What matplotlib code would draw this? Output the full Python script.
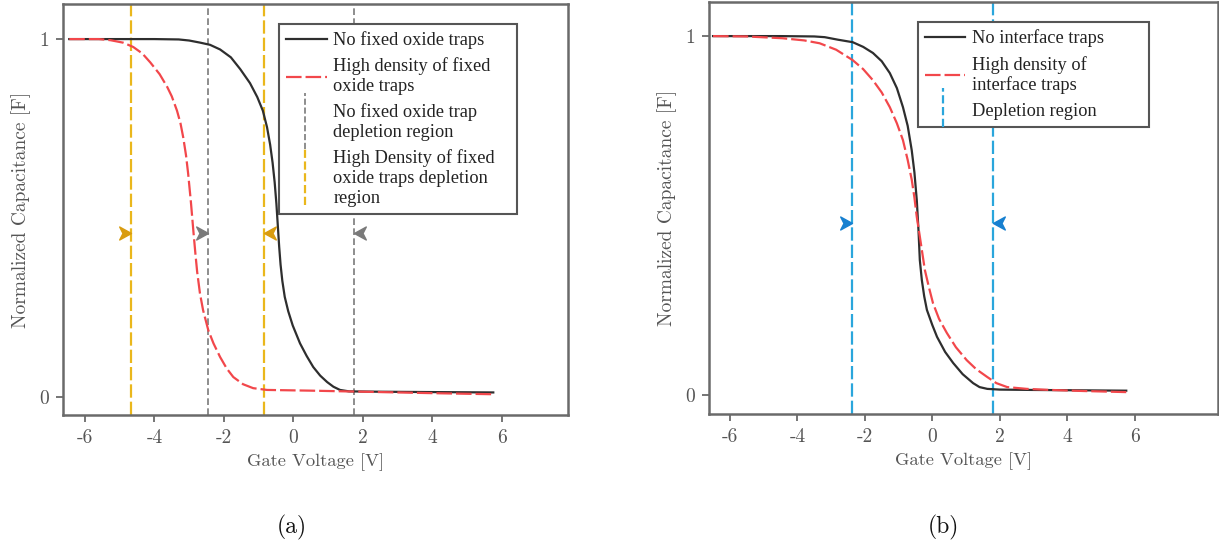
import matplotlib
matplotlib.use("Agg")
import matplotlib.pyplot as plt
from matplotlib.lines import Line2D
from matplotlib.path import Path
from matplotlib.legend_handler import HandlerBase

# ---------------- data ----------------
# Panel (a): fixed oxide traps
a_black_x = [-6.45, -4.0, -3.3, -3.0, -2.68, -2.4, -2.11, -1.8, -1.53, -1.25, -1.04, -0.88,
             -0.76, -0.67, -0.60, -0.54, -0.49, -0.45, -0.41, -0.37, -0.32, -0.25, -0.15,
             -0.02, 0.19, 0.38, 0.57, 0.77, 0.97, 1.15, 1.34, 1.6, 2.5, 4.0, 5.75]
a_black_y = [1.0, 1.0, 0.999, 0.996, 0.99, 0.984, 0.971, 0.949, 0.916, 0.877, 0.838, 0.80,
             0.754, 0.705, 0.655, 0.60, 0.54, 0.48, 0.42, 0.37, 0.325, 0.28, 0.24,
             0.20, 0.15, 0.115, 0.084, 0.06, 0.042, 0.029, 0.02, 0.016, 0.015, 0.014, 0.013]
a_red_x = [-6.45, -5.6, -5.27, -4.9, -4.61, -4.35, -4.12, -3.85, -3.63, -3.5, -3.35, -3.25,
           -3.17, -3.09, -3.03, -2.95, -2.88, -2.82, -2.77, -2.69, -2.60, -2.45, -2.3, -2.11,
           -1.92, -1.73, -1.45, -1.16, -0.76, 0.5, 2.0, 4.0, 5.75]
a_red_y = [1.0, 1.0, 0.997, 0.99, 0.978, 0.96, 0.935, 0.902, 0.866, 0.84, 0.80, 0.765,
           0.725, 0.675, 0.625, 0.545, 0.465, 0.40, 0.35, 0.29, 0.243, 0.187, 0.15, 0.112,
           0.08, 0.056, 0.036, 0.025, 0.02, 0.018, 0.015, 0.011, 0.008]
a_gray_vlines = [-2.46, 1.74]
a_yellow_vlines = [-4.67, -0.84]
a_arrow_y = 0.458

# Panel (b): interface traps
b_black_x = [-6.5, -4.5, -3.5, -3.19, -2.8, -2.36, -2.05, -1.76, -1.5, -1.26, -1.05, -0.87,
             -0.73, -0.61, -0.53, -0.46, -0.41, -0.37, -0.31, -0.24, -0.16, 0.0, 0.14, 0.38,
             0.62, 0.9, 1.21, 1.4, 1.63, 2.0, 3.0, 5.75]
b_black_y = [1.0, 1.0, 0.999, 0.997, 0.99, 0.983, 0.97, 0.953, 0.93, 0.897, 0.855, 0.802,
             0.75, 0.682, 0.62, 0.543, 0.46, 0.376, 0.32, 0.275, 0.237, 0.195, 0.162, 0.12,
             0.089, 0.058, 0.033, 0.022, 0.017, 0.015, 0.014, 0.012]
b_red_x = [-6.5, -5.5, -4.44, -3.8, -3.34, -2.85, -2.36, -2.05, -1.76, -1.5, -1.26, -1.05,
           -0.87, -0.73, -0.61, -0.53, -0.46, -0.38, -0.31, -0.22, -0.1, 0.02, 0.2, 0.43,
           0.7, 1.02, 1.3, 1.63, 1.9, 2.22, 2.8, 3.5, 4.5, 5.75]
b_red_y = [1.0, 0.999, 0.994, 0.988, 0.98, 0.962, 0.933, 0.908, 0.877, 0.843, 0.802, 0.757,
           0.71, 0.655, 0.60, 0.55, 0.496, 0.448, 0.404, 0.348, 0.30, 0.256, 0.212, 0.173,
           0.133, 0.097, 0.072, 0.05, 0.033, 0.022, 0.017, 0.014, 0.011, 0.008]
b_blue_vlines = [-2.37, 1.79]
b_arrow_y = 0.48

xticks = [-6, -4, -2, 0, 2, 4, 6]
xticklabels = ["-6", "-4", "-2", "0", "2", "4", "6"]
yticks = [0, 1]
yticklabels = ["0", "1"]

legend_a = ["No fixed oxide traps", "High density of fixed\noxide traps",
            "No fixed oxide trap\ndepletion region",
            "High Density of fixed\noxide traps depletion\nregion"]
legend_b = ["No interface traps", "High density of\ninterface traps", "Depletion region"]

# ---------------- style ----------------
plt.rcParams["axes.unicode_minus"] = False
AX_FONT = "cmr10"
LEG_FONT = "Liberation Serif"
TXT = "#555555"
SPINE = "#6a6a6a"
BLACK = "#2e2e2e"
RED = "#f2474b"
GRAY = "#7a7a7a"
YEL = "#eab71c"
YEL_ARROW = "#d99c10"
BLUE = "#2aa6dc"
BLUE_ARROW = "#1780d0"

red_dash = (0, (7, 1.8))
gray_dash = (0, (4, 2))
yel_dash = (0, (6, 1.8))
blue_dash = (0, (6, 1.8))

# stealth-like arrowhead pointing right, tip at origin
arrow_right = Path([(0, 0), (-1.0, 0.55), (-0.72, 0), (-1.0, -0.55), (0, 0)],
                   [Path.MOVETO, Path.LINETO, Path.LINETO, Path.LINETO, Path.CLOSEPOLY])
arrow_left = Path([(0, 0), (1.0, 0.55), (0.72, 0), (1.0, -0.55), (0, 0)],
                  [Path.MOVETO, Path.LINETO, Path.LINETO, Path.LINETO, Path.CLOSEPOLY])


class VLineHandler(HandlerBase):
    """Legend handle drawn as a short vertical dashed segment."""
    def __init__(self, span=28, **kw):
        super().__init__(**kw)
        self.span = span

    def create_artists(self, legend, orig_handle, xdescent, ydescent, width, height,
                       fontsize, trans):
        xc = width * 0.45 - xdescent
        yc = height / 2 - ydescent + 1.0
        ln = Line2D([xc, xc], [yc - self.span / 2, yc + self.span / 2],
                    color=orig_handle.get_color(), lw=orig_handle.get_linewidth(),
                    linestyle=orig_handle.get_linestyle())
        ln.set_transform(trans)
        return [ln]


fig = plt.figure(figsize=(12.19, 5.51), dpi=100)
axA = fig.add_axes([63 / 1219, 136 / 551, 505 / 1219, 411 / 551])
axB = fig.add_axes([709 / 1219, 137 / 551, 509 / 1219, 412 / 551])


def style_axes(ax, xlim, ylim):
    ax.set_xlim(*xlim)
    ax.set_ylim(*ylim)
    ax.set_xticks(xticks)
    ax.set_xticklabels(xticklabels, fontfamily=AX_FONT, fontsize=14, color=TXT)
    ax.set_yticks(yticks)
    ax.set_yticklabels(yticklabels, fontfamily=AX_FONT, fontsize=14, color=TXT)
    ax.tick_params(direction="out", length=5, width=1.3, color=SPINE, pad=5)
    for s in ax.spines.values():
        s.set_color(SPINE)
        s.set_linewidth(1.8)
    ax.set_xlabel("Gate Voltage [V]", fontfamily=AX_FONT, fontsize=13.3, color=TXT, labelpad=5)
    ax.set_ylabel("Normalized Capacitance [F]", fontfamily=AX_FONT, fontsize=14, color=TXT,
                  labelpad=6)


def add_legend(ax, handles, labels, anchor, vhandles, span):
    leg = ax.legend(handles, labels, loc="upper left", bbox_to_anchor=anchor, mode="expand",
                    borderaxespad=0, prop={"family": LEG_FONT, "size": 13.2}, frameon=True,
                    fancybox=False, edgecolor="#555555", framealpha=1, handlelength=2.2,
                    handletextpad=0.35, labelspacing=0.45, borderpad=0.4,
                    handler_map={h: VLineHandler(span=span) for h in vhandles})
    leg.get_frame().set_linewidth(1.5)
    for t in leg.get_texts():
        t.set_color("#222222")
        t.set_linespacing(1.22)
    leg.set_zorder(10)
    return leg


# ---- panel (a) ----
axA.plot(a_black_x, a_black_y, color=BLACK, lw=1.6, zorder=4)
axA.plot(a_red_x, a_red_y, color=RED, lw=1.6, linestyle=red_dash, zorder=4)
for xv in a_gray_vlines:
    axA.axvline(xv, color=GRAY, lw=1.2, linestyle=gray_dash, zorder=2)
for xv in a_yellow_vlines:
    axA.axvline(xv, color=YEL, lw=1.6, linestyle=yel_dash, zorder=2)
axA.plot([a_yellow_vlines[0]], [a_arrow_y], marker=arrow_right, ms=17, color=YEL_ARROW,
         linestyle="none", zorder=5)
axA.plot([a_gray_vlines[0]], [a_arrow_y], marker=arrow_right, ms=17, color=GRAY,
         linestyle="none", zorder=5)
axA.plot([a_yellow_vlines[1]], [a_arrow_y], marker=arrow_left, ms=17, color=YEL_ARROW,
         linestyle="none", zorder=5)
axA.plot([a_gray_vlines[1]], [a_arrow_y], marker=arrow_left, ms=17, color=GRAY,
         linestyle="none", zorder=5)
style_axes(axA, (-6.63, 7.90), (-0.05, 1.098))

hA = [Line2D([], [], color=BLACK, lw=1.6),
      Line2D([], [], color=RED, lw=1.6, linestyle=red_dash),
      Line2D([], [], color=GRAY, lw=1.2, linestyle=gray_dash),
      Line2D([], [], color=YEL, lw=1.6, linestyle=yel_dash)]
add_legend(axA, hA, legend_a, (0.428, 0.0, 0.471, 0.951), hA[2:], 40)

# ---- panel (b) ----
axB.plot(b_black_x, b_black_y, color=BLACK, lw=1.6, zorder=4)
axB.plot(b_red_x, b_red_y, color=RED, lw=1.6, linestyle=red_dash, zorder=4)
for xv in b_blue_vlines:
    axB.axvline(xv, color=BLUE, lw=1.6, linestyle=blue_dash, zorder=2)
axB.plot([b_blue_vlines[0]], [b_arrow_y], marker=arrow_right, ms=17, color=BLUE_ARROW,
         linestyle="none", zorder=5)
axB.plot([b_blue_vlines[1]], [b_arrow_y], marker=arrow_left, ms=17, color=BLUE_ARROW,
         linestyle="none", zorder=5)
style_axes(axB, (-6.62, 8.47), (-0.053, 1.095))

hB = [Line2D([], [], color=BLACK, lw=1.6),
      Line2D([], [], color=RED, lw=1.6, linestyle=red_dash),
      Line2D([], [], color=BLUE, lw=1.6, linestyle=blue_dash)]
add_legend(axB, hB, legend_b, (0.41, 0.0, 0.454, 0.951), hB[2:], 28)

fig.text(292 / 1219, 1 - 527 / 551, "(a)", fontfamily=AX_FONT, fontsize=17, color="#111111",
         ha="center", va="center")
fig.text(943 / 1219, 1 - 527 / 551, "(b)", fontfamily=AX_FONT, fontsize=17, color="#111111",
         ha="center", va="center")

fig.savefig("out.png", dpi=100)
